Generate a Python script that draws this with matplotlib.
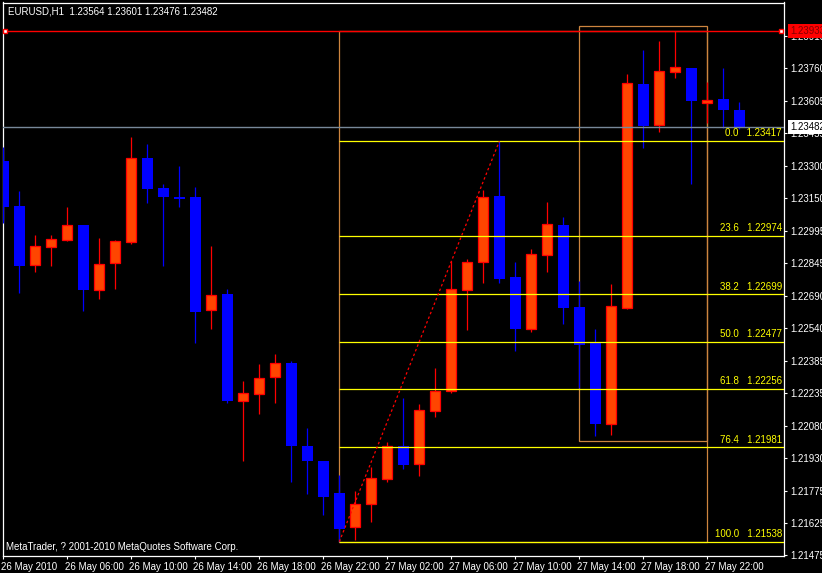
import matplotlib

matplotlib.use("Agg")
import matplotlib.pyplot as plt
import matplotlib.transforms as mtransforms
from matplotlib.patches import Rectangle

plt.rcParams["font.family"] = ["Liberation Sans", "DejaVu Sans"]

# EURUSD H1 bars, 26 May 02:00 .. 28 May 00:00
opens = [1.23324, 1.23113, 1.22835, 1.22919, 1.22952, 1.23023, 1.22718, 1.22844,
         1.22946, 1.23339, 1.23198, 1.23155, 1.23155, 1.22624, 1.22700, 1.22197,
         1.22230, 1.22309, 1.22376, 1.21987, 1.21917, 1.21765, 1.21605, 1.21713,
         1.21831, 1.21986, 1.21901, 1.22150, 1.22244, 1.22718, 1.22849, 1.23160,
         1.22780, 1.22537, 1.22885, 1.23024, 1.22639, 1.22470, 1.22092, 1.22636,
         1.23686, 1.23495, 1.23741, 1.23761, 1.23598, 1.23615, 1.23564]
highs = [1.23390, 1.23184, 1.22977, 1.22977, 1.23109, 1.23025, 1.22963, 1.22954,
         1.23438, 1.23404, 1.23216, 1.23301, 1.23202, 1.22926, 1.22724, 1.22292,
         1.22372, 1.22419, 1.22386, 1.22071, 1.21917, 1.21851, 1.21776, 1.21888,
         1.22004, 1.22214, 1.22184, 1.22353, 1.22854, 1.22865, 1.23188, 1.23417,
         1.22850, 1.22911, 1.23132, 1.23062, 1.22761, 1.22536, 1.22747, 1.23733,
         1.23845, 1.23888, 1.23933, 1.23761, 1.23697, 1.23761, 1.23601]
lows = [1.23033, 1.22705, 1.22805, 1.22833, 1.22950, 1.22620, 1.22678, 1.22725,
        1.22935, 1.23129, 1.22833, 1.23109, 1.22472, 1.22537, 1.22190, 1.21917,
        1.22139, 1.22190, 1.21819, 1.21763, 1.21663, 1.21538, 1.21545, 1.21632,
        1.21819, 1.21878, 1.21848, 1.22124, 1.22237, 1.22533, 1.22753, 1.22753,
        1.22434, 1.22523, 1.22805, 1.22561, 1.22259, 1.22035, 1.22040, 1.22631,
        1.23387, 1.23462, 1.23715, 1.23218, 1.23503, 1.23479, 1.23476]
closes = [1.23109, 1.22833, 1.22924, 1.22957, 1.23023, 1.22720, 1.22840, 1.22948,
          1.23337, 1.23193, 1.23157, 1.23146, 1.22617, 1.22694, 1.22198, 1.22234,
          1.22305, 1.22375, 1.21988, 1.21917, 1.21749, 1.21599, 1.21713, 1.21835,
          1.21986, 1.21899, 1.22155, 1.22244, 1.22722, 1.22849, 1.23154, 1.22771,
          1.22536, 1.22887, 1.23027, 1.22636, 1.22461, 1.22092, 1.22643, 1.23689,
          1.23490, 1.23745, 1.23764, 1.23606, 1.23611, 1.23565, 1.23482]

time_ticks = [0, 4, 8, 12, 16, 20, 24, 28, 32, 36, 40, 44]
time_labels = ["26 May 2010", "26 May 06:00", "26 May 10:00", "26 May 14:00",
               "26 May 18:00", "26 May 22:00", "27 May 02:00", "27 May 06:00",
               "27 May 10:00", "27 May 14:00", "27 May 18:00", "27 May 22:00"]
price_ticks = [1.23910, 1.23760, 1.23605, 1.23455, 1.23300, 1.23150, 1.22995,
               1.22845, 1.22690, 1.22540, 1.22385, 1.22235, 1.22080, 1.21930,
               1.21775, 1.21625, 1.21475]

fib_levels = [0.0, 23.6, 38.2, 50.0, 61.8, 76.4, 100.0]
fib_prices = [1.23417, 1.22974, 1.22699, 1.22477, 1.22256, 1.21981, 1.21538]
fib_bars = [21, 31]  # swing low bar, swing high bar

hline_price = 1.23933
bid = 1.23482
big_box = (21, 44, 1.21538, 1.23933)
small_box = (36, 44, 1.22009, 1.23957)

BULL_FILL, BULL_EDGE = "#FF4500", "#FF0000"
BEAR = "#0000FF"
TAN = "#CD853F"

fig = plt.figure(figsize=(8.22, 5.73), dpi=100, facecolor="black")
ax = fig.add_axes([2.5 / 822, 17 / 573, 781.5 / 822, 553.5 / 573])
ax.set_facecolor("black")
ax.set_xlim(-0.05, 48.79)
ax.set_ylim(1.21471, 1.24068)

for x0, x1, lo, hi in (big_box, small_box):
    ax.add_patch(Rectangle((x0, lo), x1 - x0, hi - lo, fill=False,
                           edgecolor=TAN, lw=0.9, zorder=1))

for i, (o, h, l, c) in enumerate(zip(opens, highs, lows, closes)):
    up = c >= o
    ax.vlines(i, l, h, color=BULL_EDGE if up else BEAR, lw=0.9, zorder=3)
    lo_b, hi_b = min(o, c), max(o, c)
    if up:
        ax.bar(i, max(hi_b - lo_b, 0.00002), 0.63, bottom=lo_b, color=BULL_FILL,
               edgecolor=BULL_EDGE, lw=0.9, zorder=4)
    else:
        ax.bar(i, max(hi_b - lo_b, 0.00002), 0.69, bottom=lo_b, color=BEAR,
               lw=0, zorder=4)

# fibonacci retracement
xr = ax.get_xlim()[1]
for lvl, p in zip(fib_levels, fib_prices):
    ax.hlines(p, fib_bars[0], xr, color="#FFFF00", lw=0.9, zorder=5)
    ax.text(48.66, p + 0.00013, f"{lvl:.1f}   {p:.5f}", color="#FFFF00",
            fontsize=7, ha="right", va="bottom", zorder=6)
ax.plot(fib_bars, [fib_prices[-1], fib_prices[0]], color="#FF0000", lw=0.9,
        ls=(0, (2, 2)), zorder=5)

# horizontal line + bid line
ax.axhline(hline_price, color="#FF0000", lw=1, zorder=5)
ax.plot([0.125, 48.63], [hline_price, hline_price], ls="none", marker="s",
        ms=3.5, mfc="white", mec="#FF0000", mew=1, zorder=6, clip_on=False)
ax.axhline(bid, color="#778899", lw=1, zorder=5)

for s in ax.spines.values():
    s.set_color("white")
    s.set_linewidth(0.9)

ax.yaxis.tick_right()
ax.set_yticks(price_ticks, [f"{p:.5f}" for p in price_ticks])
ax.set_xticks(time_ticks, time_labels)
ax.tick_params(colors="white", labelcolor="white", labelsize=7, length=2.2,
               width=0.8, pad=2)
shift = mtransforms.ScaledTranslation(-2 / 100, 0, fig.dpi_scale_trans)
for lab in ax.get_xticklabels():
    lab.set_ha("left")
    lab.set_transform(lab.get_transform() + shift)

ytr = mtransforms.blended_transform_factory(ax.transAxes, ax.transData)
ax.text(1.0 + 6 / 781.5, bid, f"{bid:.5f}", transform=ytr, fontsize=7,
        color="black", va="center", ha="left", clip_on=False, zorder=10,
        bbox=dict(boxstyle="square,pad=0.2", fc="white", ec="none"))
ax.text(1.0 + 6 / 781.5, hline_price, f"{hline_price:.5f}", transform=ytr,
        fontsize=7, color="#800000", va="center", ha="left", clip_on=False,
        zorder=10, bbox=dict(boxstyle="square,pad=0.2", fc="#FF0000", ec="none"))

ax.text(5 / 781.5, 1 - 9 / 553.5,
        f"EURUSD,H1  {opens[-1]:.5f} {highs[-1]:.5f} {lows[-1]:.5f} {closes[-1]:.5f}",
        transform=ax.transAxes, color="white", fontsize=7, va="center")
ax.text(4 / 781.5, 9 / 553.5, "MetaTrader, ? 2001-2010 MetaQuotes Software Corp.",
        transform=ax.transAxes, color="white", fontsize=7, va="center")

fig.savefig("out.png", dpi=100, facecolor="black")
